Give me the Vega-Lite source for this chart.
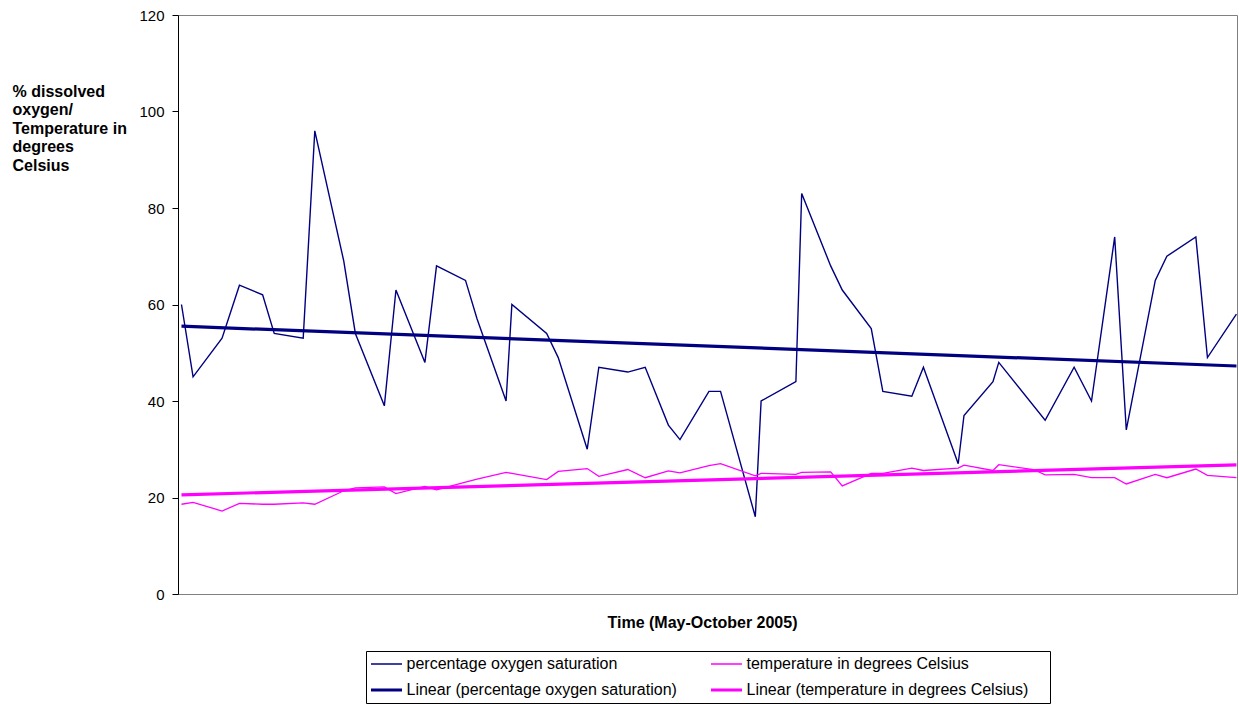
{
  "$schema": "https://vega.github.io/schema/vega-lite/v6.json",
  "width": 1059,
  "height": 579,
  "autosize": {"type": "none"},
  "padding": {"left": 178, "top": 15, "right": 2, "bottom": 110},
  "background": "white",
  "config": {
    "view": {"stroke": "#808080", "strokeWidth": 1},
    "font": "Liberation Sans"
  },
  "datasets": {
    "obs": [
      {"day": 0, "series": "percentage oxygen saturation", "value": 60},
      {"day": 2, "series": "percentage oxygen saturation", "value": 45},
      {"day": 7, "series": "percentage oxygen saturation", "value": 53},
      {"day": 10, "series": "percentage oxygen saturation", "value": 64},
      {"day": 14, "series": "percentage oxygen saturation", "value": 62},
      {"day": 16, "series": "percentage oxygen saturation", "value": 54},
      {"day": 21, "series": "percentage oxygen saturation", "value": 53},
      {"day": 23, "series": "percentage oxygen saturation", "value": 96},
      {"day": 28, "series": "percentage oxygen saturation", "value": 69},
      {"day": 30, "series": "percentage oxygen saturation", "value": 54},
      {"day": 35, "series": "percentage oxygen saturation", "value": 39},
      {"day": 37, "series": "percentage oxygen saturation", "value": 63},
      {"day": 42, "series": "percentage oxygen saturation", "value": 48},
      {"day": 44, "series": "percentage oxygen saturation", "value": 68},
      {"day": 49, "series": "percentage oxygen saturation", "value": 65},
      {"day": 51, "series": "percentage oxygen saturation", "value": 57},
      {"day": 56, "series": "percentage oxygen saturation", "value": 40},
      {"day": 57, "series": "percentage oxygen saturation", "value": 60},
      {"day": 63, "series": "percentage oxygen saturation", "value": 54},
      {"day": 65, "series": "percentage oxygen saturation", "value": 49},
      {"day": 70, "series": "percentage oxygen saturation", "value": 30},
      {"day": 72, "series": "percentage oxygen saturation", "value": 47},
      {"day": 77, "series": "percentage oxygen saturation", "value": 46},
      {"day": 80, "series": "percentage oxygen saturation", "value": 47},
      {"day": 84, "series": "percentage oxygen saturation", "value": 35},
      {"day": 86, "series": "percentage oxygen saturation", "value": 32},
      {"day": 91, "series": "percentage oxygen saturation", "value": 42},
      {"day": 93, "series": "percentage oxygen saturation", "value": 42},
      {"day": 99, "series": "percentage oxygen saturation", "value": 16},
      {"day": 100, "series": "percentage oxygen saturation", "value": 40},
      {"day": 106, "series": "percentage oxygen saturation", "value": 44},
      {"day": 107, "series": "percentage oxygen saturation", "value": 83},
      {"day": 112, "series": "percentage oxygen saturation", "value": 68},
      {"day": 114, "series": "percentage oxygen saturation", "value": 63},
      {"day": 119, "series": "percentage oxygen saturation", "value": 55},
      {"day": 121, "series": "percentage oxygen saturation", "value": 42},
      {"day": 126, "series": "percentage oxygen saturation", "value": 41},
      {"day": 128, "series": "percentage oxygen saturation", "value": 47},
      {"day": 134, "series": "percentage oxygen saturation", "value": 27},
      {"day": 135, "series": "percentage oxygen saturation", "value": 37},
      {"day": 140, "series": "percentage oxygen saturation", "value": 44},
      {"day": 141, "series": "percentage oxygen saturation", "value": 48},
      {"day": 149, "series": "percentage oxygen saturation", "value": 36},
      {"day": 154, "series": "percentage oxygen saturation", "value": 47},
      {"day": 157, "series": "percentage oxygen saturation", "value": 40},
      {"day": 161, "series": "percentage oxygen saturation", "value": 74},
      {"day": 163, "series": "percentage oxygen saturation", "value": 34},
      {"day": 168, "series": "percentage oxygen saturation", "value": 65},
      {"day": 170, "series": "percentage oxygen saturation", "value": 70},
      {"day": 175, "series": "percentage oxygen saturation", "value": 74},
      {"day": 177, "series": "percentage oxygen saturation", "value": 49},
      {"day": 182, "series": "percentage oxygen saturation", "value": 58},
      {"day": 0, "series": "temperature in degrees Celsius", "value": 18.6},
      {"day": 2, "series": "temperature in degrees Celsius", "value": 19.0},
      {"day": 7, "series": "temperature in degrees Celsius", "value": 17.2},
      {"day": 10, "series": "temperature in degrees Celsius", "value": 18.8},
      {"day": 14, "series": "temperature in degrees Celsius", "value": 18.6},
      {"day": 16, "series": "temperature in degrees Celsius", "value": 18.6},
      {"day": 21, "series": "temperature in degrees Celsius", "value": 18.9},
      {"day": 23, "series": "temperature in degrees Celsius", "value": 18.6},
      {"day": 28, "series": "temperature in degrees Celsius", "value": 21.4},
      {"day": 30, "series": "temperature in degrees Celsius", "value": 22.0},
      {"day": 35, "series": "temperature in degrees Celsius", "value": 22.2},
      {"day": 37, "series": "temperature in degrees Celsius", "value": 20.8},
      {"day": 42, "series": "temperature in degrees Celsius", "value": 22.3},
      {"day": 44, "series": "temperature in degrees Celsius", "value": 21.6},
      {"day": 49, "series": "temperature in degrees Celsius", "value": 23.2},
      {"day": 51, "series": "temperature in degrees Celsius", "value": 23.8},
      {"day": 56, "series": "temperature in degrees Celsius", "value": 25.2},
      {"day": 57, "series": "temperature in degrees Celsius", "value": 25.0},
      {"day": 63, "series": "temperature in degrees Celsius", "value": 23.7},
      {"day": 65, "series": "temperature in degrees Celsius", "value": 25.4},
      {"day": 70, "series": "temperature in degrees Celsius", "value": 26.0},
      {"day": 72, "series": "temperature in degrees Celsius", "value": 24.4},
      {"day": 77, "series": "temperature in degrees Celsius", "value": 25.8},
      {"day": 80, "series": "temperature in degrees Celsius", "value": 24.1},
      {"day": 84, "series": "temperature in degrees Celsius", "value": 25.5},
      {"day": 86, "series": "temperature in degrees Celsius", "value": 25.1},
      {"day": 91, "series": "temperature in degrees Celsius", "value": 26.6},
      {"day": 93, "series": "temperature in degrees Celsius", "value": 27.0},
      {"day": 99, "series": "temperature in degrees Celsius", "value": 24.5},
      {"day": 100, "series": "temperature in degrees Celsius", "value": 25.0},
      {"day": 106, "series": "temperature in degrees Celsius", "value": 24.8},
      {"day": 107, "series": "temperature in degrees Celsius", "value": 25.2},
      {"day": 112, "series": "temperature in degrees Celsius", "value": 25.3},
      {"day": 114, "series": "temperature in degrees Celsius", "value": 22.4},
      {"day": 119, "series": "temperature in degrees Celsius", "value": 25.0},
      {"day": 121, "series": "temperature in degrees Celsius", "value": 25.0},
      {"day": 126, "series": "temperature in degrees Celsius", "value": 26.1},
      {"day": 128, "series": "temperature in degrees Celsius", "value": 25.6},
      {"day": 134, "series": "temperature in degrees Celsius", "value": 26.1},
      {"day": 135, "series": "temperature in degrees Celsius", "value": 26.7},
      {"day": 140, "series": "temperature in degrees Celsius", "value": 25.6},
      {"day": 141, "series": "temperature in degrees Celsius", "value": 26.8},
      {"day": 147, "series": "temperature in degrees Celsius", "value": 25.8},
      {"day": 149, "series": "temperature in degrees Celsius", "value": 24.7},
      {"day": 154, "series": "temperature in degrees Celsius", "value": 24.8},
      {"day": 157, "series": "temperature in degrees Celsius", "value": 24.1},
      {"day": 161, "series": "temperature in degrees Celsius", "value": 24.1},
      {"day": 163, "series": "temperature in degrees Celsius", "value": 22.8},
      {"day": 168, "series": "temperature in degrees Celsius", "value": 24.8},
      {"day": 170, "series": "temperature in degrees Celsius", "value": 24.1},
      {"day": 175, "series": "temperature in degrees Celsius", "value": 25.9},
      {"day": 177, "series": "temperature in degrees Celsius", "value": 24.6},
      {"day": 182, "series": "temperature in degrees Celsius", "value": 24.1}
    ],
    "trend": [
      {"day": 0, "series": "Linear (percentage oxygen saturation)", "value": 55.5},
      {"day": 182, "series": "Linear (percentage oxygen saturation)", "value": 47.25},
      {"day": 0, "series": "Linear (temperature in degrees Celsius)", "value": 20.55},
      {"day": 182, "series": "Linear (temperature in degrees Celsius)", "value": 26.75}
    ]
  },
  "encoding": {
    "x": {
      "field": "day",
      "type": "quantitative",
      "scale": {"domain": [-0.6, 182.1], "nice": false, "zero": false},
      "axis": {
        "title": "Time (May-October 2005)",
        "labels": false,
        "ticks": false,
        "domain": false,
        "grid": false,
        "titleFontWeight": "bold",
        "titleFontSize": 16,
        "titleColor": "black",
        "titleX": 524,
        "titleY": 33,
        "titleAlign": "center",
        "titleBaseline": "alphabetic"
      }
    },
    "y": {
      "field": "value",
      "type": "quantitative",
      "scale": {"domain": [0, 120], "nice": false},
      "axis": {
        "values": [0, 20, 40, 60, 80, 100, 120],
        "grid": false,
        "domainColor": "black",
        "tickColor": "black",
        "tickSize": 6,
        "labelPadding": 8,
        "labelFontSize": 15,
        "labelColor": "black",
        "title": ["% dissolved", "oxygen/", "Temperature in", "degrees", "Celsius"],
        "titleAngle": 0,
        "titleAlign": "left",
        "titleBaseline": "alphabetic",
        "titleX": -166,
        "titleY": 81,
        "titleFontSize": 16,
        "titleFontWeight": "bold",
        "titleLineHeight": 18.5,
        "titleColor": "black"
      }
    },
    "color": {
      "field": "series",
      "type": "nominal",
      "scale": {
        "domain": ["percentage oxygen saturation", "temperature in degrees Celsius", "Linear (percentage oxygen saturation)", "Linear (temperature in degrees Celsius)"],
        "range": ["#000080", "#FF00FF", "#000080", "#FF00FF"]
      },
      "legend": {
        "title": "\u00a0",
        "titleOrient": "right",
        "titlePadding": 17,
        "titleFontSize": 16,
        "orient": "none",
        "direction": "horizontal",
        "legendX": 188,
        "legendY": 636,
        "columns": 2,
        "columnPadding": 27,
        "rowPadding": 10,
        "padding": 5,
        "strokeColor": "black",
        "symbolType": "M-3,0H3",
        "symbolSize": 107,
        "symbolOffset": 7.5,
        "labelOffset": 12,
        "labelFontSize": 16,
        "labelColor": "black",
        "labelLimit": 500
      }
    },
    "strokeWidth": {
      "field": "series",
      "type": "ordinal",
      "scale": {
        "type": "ordinal",
        "domain": ["percentage oxygen saturation", "temperature in degrees Celsius", "Linear (percentage oxygen saturation)", "Linear (temperature in degrees Celsius)"],
        "range": [1.4, 1.3, 3.2, 3.2]
      },
      "legend": {
        "title": "\u00a0",
        "titleOrient": "right",
        "titlePadding": 17,
        "titleFontSize": 16,
        "orient": "none",
        "direction": "horizontal",
        "legendX": 188,
        "legendY": 636,
        "columns": 2,
        "columnPadding": 27,
        "rowPadding": 10,
        "padding": 5,
        "strokeColor": "black",
        "symbolType": "M-3,0H3",
        "symbolSize": 107,
        "symbolOffset": 7.5,
        "labelOffset": 12,
        "labelFontSize": 16,
        "labelColor": "black",
        "labelLimit": 500
      }
    }
  },
  "layer": [
    {"data": {"name": "obs"}, "mark": {"type": "line"}},
    {"data": {"name": "trend"}, "mark": {"type": "line"}}
  ]
}
